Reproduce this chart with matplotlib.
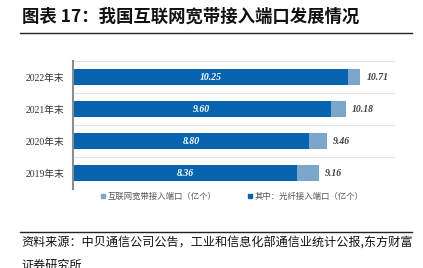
import matplotlib
matplotlib.use("Agg")
import matplotlib.pyplot as plt
from matplotlib.lines import Line2D

categories = ["2019年末", "2020年末", "2021年末", "2022年末"]
total_ports = [9.16, 9.46, 10.18, 10.71]
fiber_ports = [8.36, 8.80, 9.60, 10.25]
legend_labels = ["互联网宽带接入端口（亿个）", "其中：光纤接入端口（亿个）"]
title = "图表 17：我国互联网宽带接入端口发展情况"
source = "资料来源：中贝通信公司公告，工业和信息化部通信业统计公报,东方财富"
source2 = "证券研究所"

dark = "#0563b0"
light = "#7ba7cc"

W, H = 423, 268
fig = plt.figure(figsize=(W / 100, H / 100), dpi=100)
cjk = ["Noto Sans CJK SC", "DejaVu Sans"]
serif = ["Liberation Serif", "Noto Sans CJK SC"]

ax = fig.add_axes([73 / W, 1 - 189 / H, (395 - 73) / W, (189 - 61) / H])
y = list(range(len(categories)))
ax.barh(y, total_ports, height=0.5, color=light, zorder=2)
ax.barh(y, fiber_ports, height=0.5, color=dark, zorder=3)
for yi, t, f in zip(y, total_ports, fiber_ports):
    ax.text(f / 2, yi, f"{f:.2f}", color="white", fontsize=7, fontweight="bold",
            fontstyle="italic", ha="center", va="center", family=serif, zorder=4)
    ax.text(t + 0.22, yi, f"{t:.2f}", color="#404040", fontsize=7, fontweight="bold",
            fontstyle="italic", ha="left", va="center", family=serif, zorder=4)

ax.set_xlim(0, 12)
ax.set_ylim(-0.5, len(categories) - 0.5)
ax.set_yticks(y)
ax.set_yticklabels(categories, family=serif, fontsize=7, color="#333333")
ax.set_xticks([])
ax.tick_params(axis="y", length=0, pad=6)
for b in [i - 0.5 for i in range(len(categories) + 1)]:
    ax.axhline(b, color="#e3e3e3", lw=0.8, zorder=1)
for s in ["top", "right", "bottom"]:
    ax.spines[s].set_visible(False)
ax.spines["left"].set_color("#8c8c8c")
ax.spines["left"].set_linewidth(1.5)
ax.spines["left"].set_zorder(5)

handles = [Line2D([], [], marker="s", ls="", color=light, markersize=3),
           Line2D([], [], marker="s", ls="", color=dark, markersize=3)]
fig.legend(handles, legend_labels, loc="center", ncol=2,
           bbox_to_anchor=(232 / W, 1 - 196 / H), frameon=False,
           prop={"family": cjk, "size": 6}, handlelength=0.6, handletextpad=0.2,
           columnspacing=3.8, labelcolor="#555555")

fig.text(22 / W, 1 - 17 / H, title, family=cjk, fontsize=12.5, fontweight="bold",
         ha="left", va="center", color="#111111")
fig.add_artist(Line2D([20 / W, 412 / W], [1 - 33 / H, 1 - 33 / H], color="#222222", lw=1.0))
fig.add_artist(Line2D([20 / W, 412 / W], [1 - 232 / H, 1 - 232 / H], color="#222222", lw=1.0))
fig.text(21 / W, 1 - 243 / H, source, family=cjk, fontsize=8.7, ha="left", va="center",
         color="#111111")
fig.text(21 / W, 1 - 265 / H, source2, family=cjk, fontsize=8.7, ha="left", va="center",
         color="#111111")

fig.savefig("out.png", dpi=100)
